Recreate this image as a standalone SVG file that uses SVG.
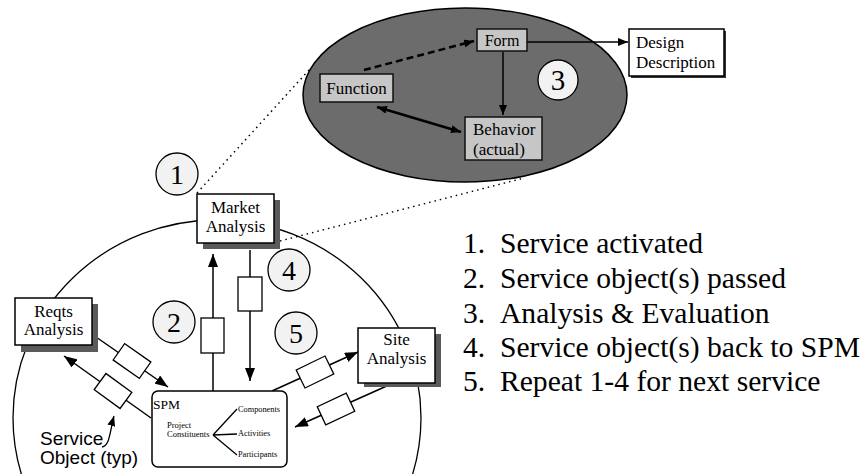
<svg xmlns="http://www.w3.org/2000/svg" width="862" height="474" viewBox="0 0 862 474">
<style>
text{font-family:"Liberation Serif","DejaVu Serif","Times New Roman",serif;fill:#000}
text.sans{font-family:"Liberation Sans","DejaVu Sans",Arial,sans-serif}
.box{fill:#fff;stroke:#000;stroke-width:1.5}
.shadow{fill:#5a5a5a}
.ibox{fill:#c6c6c6;stroke:#111;stroke-width:1.5}
.num{fill:#f2f2f2;stroke:#000;stroke-width:1.3}
.ln{stroke:#000;stroke-width:1.5;fill:none}
.obj{fill:#fff;stroke:#000;stroke-width:1.3}
.dot{stroke:#000;stroke-width:1.5;stroke-dasharray:1.5 4;fill:none}
</style>
<defs>
<marker id="ah" markerUnits="userSpaceOnUse" markerWidth="14" markerHeight="10" refX="13" refY="5" orient="auto">
<path d="M0,0 L13,5 L0,10 z" fill="#000"/>
</marker>
<marker id="ahs" markerUnits="userSpaceOnUse" markerWidth="11" markerHeight="8" refX="10" refY="4" orient="auto-start-reverse">
<path d="M0,0 L10,4 L0,8 z" fill="#000"/>
</marker>
</defs>

<!-- big circle -->
<ellipse cx="217" cy="418" rx="204" ry="198" fill="none" stroke="#000" stroke-width="1.3"/>

<g id="detail-ellipse">
<ellipse cx="465" cy="95" rx="162" ry="87" fill="#6c6c6c" stroke="#000" stroke-width="1.5"/>
</g>

<g id="connectors">
<line class="dot" x1="197" y1="193" x2="309" y2="70"/>
<line class="dot" x1="280" y1="241" x2="524" y2="178"/>
<line x1="364" y1="70" x2="474" y2="41" stroke="#000" stroke-width="2.5" stroke-dasharray="7 4" marker-end="url(#ahs)"/>
<line x1="503" y1="52" x2="503" y2="115" stroke="#000" stroke-width="1.5" marker-end="url(#ahs)"/>
<line x1="377" y1="107" x2="461" y2="132" stroke="#000" stroke-width="2.5" marker-start="url(#ahs)" marker-end="url(#ahs)"/>
<line x1="527" y1="42" x2="628" y2="42" stroke="#000" stroke-width="1.3" marker-end="url(#ahs)"/>
<line class="ln" x1="213" y1="391" x2="213" y2="254" marker-end="url(#ah)"/>
<rect class="obj" x="201" y="318" width="23" height="35"/>
<line class="ln" x1="250" y1="250" x2="250" y2="381" marker-end="url(#ah)"/>
<rect class="obj" x="238" y="277" width="24" height="34"/>
<line class="ln" x1="96" y1="337" x2="168" y2="387" marker-end="url(#ah)"/>
<rect class="obj" x="-16" y="-10" width="32" height="20" transform="translate(132,361) rotate(35)"/>
<line class="ln" x1="151" y1="418" x2="64" y2="356" marker-end="url(#ah)"/>
<rect class="obj" x="-16" y="-10" width="32" height="20" transform="translate(113,391) rotate(36)"/>
<line class="ln" x1="272" y1="391" x2="358" y2="352" marker-end="url(#ah)"/>
<rect class="obj" x="-16" y="-10" width="32" height="20" transform="translate(315,372) rotate(-26)"/>
<line class="ln" x1="389" y1="385" x2="295" y2="427" marker-end="url(#ah)"/>
<rect class="obj" x="-16" y="-10" width="32" height="20" transform="translate(336,409) rotate(-25)"/>
<path d="M102,447 C110,446 110,430 114,416" fill="none" stroke="#000" stroke-width="1.3" marker-end="url(#ahs)"/>
</g>

<g id="form">
<rect class="ibox" x="477" y="29" width="50" height="22"/>
<text x="502" y="46" font-size="16" text-anchor="middle">Form</text>
</g>
<g id="function">
<rect class="ibox" x="320" y="74" width="73" height="28"/>
<text x="356.5" y="94" font-size="17" text-anchor="middle">Function</text>
</g>
<g id="behavior">
<rect class="ibox" x="465" y="117" width="77" height="43"/>
<text x="473" y="135" font-size="17">Behavior</text>
<text x="473" y="155" font-size="17">(actual)</text>
</g>
<g id="step3">
<circle class="num" cx="558" cy="80" r="20"/>
<text x="558" y="90" font-size="29" text-anchor="middle">3</text>
</g>
<g id="design-description">
<rect x="631" y="31" width="95" height="47" fill="#333"/>
<rect class="box" x="629" y="29" width="95" height="47" stroke-width="1.2"/>
<text x="636" y="48" font-size="17">Design</text>
<text x="636" y="68" font-size="17">Description</text>
</g>

<g id="market-analysis">
<rect class="shadow" x="203" y="200" width="77" height="49"/>
<rect class="box" x="197" y="194" width="77" height="49"/>
<text x="235.5" y="213" font-size="17" text-anchor="middle">Market</text>
<text x="235.5" y="232" font-size="17" text-anchor="middle">Analysis</text>
</g>
<g id="reqts-analysis">
<rect class="shadow" x="21" y="304" width="77" height="48"/>
<rect class="box" x="15" y="298" width="77" height="47"/>
<text x="53.5" y="317" font-size="17" text-anchor="middle">Reqts</text>
<text x="53.5" y="335" font-size="17" text-anchor="middle">Analysis</text>
</g>
<g id="site-analysis">
<rect class="shadow" x="364" y="334" width="77" height="53"/>
<rect class="box" x="358" y="328" width="77" height="55"/>
<text x="396.5" y="345" font-size="17" text-anchor="middle">Site</text>
<text x="396.5" y="364" font-size="17" text-anchor="middle">Analysis</text>
</g>

<g id="spm">
<rect class="box" x="152" y="391" width="135" height="76" rx="6"/>
<text x="153" y="409" font-size="13.5">SPM</text>
<text x="167" y="428" font-size="8.5">Project</text>
<text x="167" y="437" font-size="8.5">Constituents</text>
<path d="M213,435 L237,409 M213,435 L237,434 M213,435 L237,455" fill="none" stroke="#000" stroke-width="1.3"/>
<text x="238" y="412" font-size="8.3">Components</text>
<text x="238" y="436" font-size="8.3">Activities</text>
<text x="238" y="457" font-size="8.3">Participants</text>
</g>

<g id="step1">
<circle class="num" cx="177" cy="174" r="21"/>
<text x="177" y="184" font-size="28" text-anchor="middle">1</text>
</g>
<g id="step2">
<circle class="num" cx="174" cy="322" r="21"/>
<text x="174" y="332" font-size="28" text-anchor="middle">2</text>
</g>
<g id="step4">
<circle class="num" cx="289" cy="270" r="21"/>
<text x="289" y="280" font-size="28" text-anchor="middle">4</text>
</g>
<g id="step5">
<circle class="num" cx="296" cy="333" r="21"/>
<text x="296" y="343" font-size="28" text-anchor="middle">5</text>
</g>

<g id="service-object-label">
<text class="sans" x="40" y="445" font-size="19">Service</text>
<text class="sans" x="40" y="464" font-size="19">Object (typ)</text>
</g>

<g id="legend" font-size="29.6">
<text x="463" y="253">1.</text><text x="500" y="253">Service activated</text>
<text x="463" y="288">2.</text><text x="500" y="288">Service object(s) passed</text>
<text x="463" y="323">3.</text><text x="500" y="323">Analysis &amp; Evaluation</text>
<text x="463" y="357">4.</text><text x="500" y="357">Service object(s) back to SPM</text>
<text x="463" y="391">5.</text><text x="500" y="391">Repeat 1-4 for next service</text>
</g>
</svg>
